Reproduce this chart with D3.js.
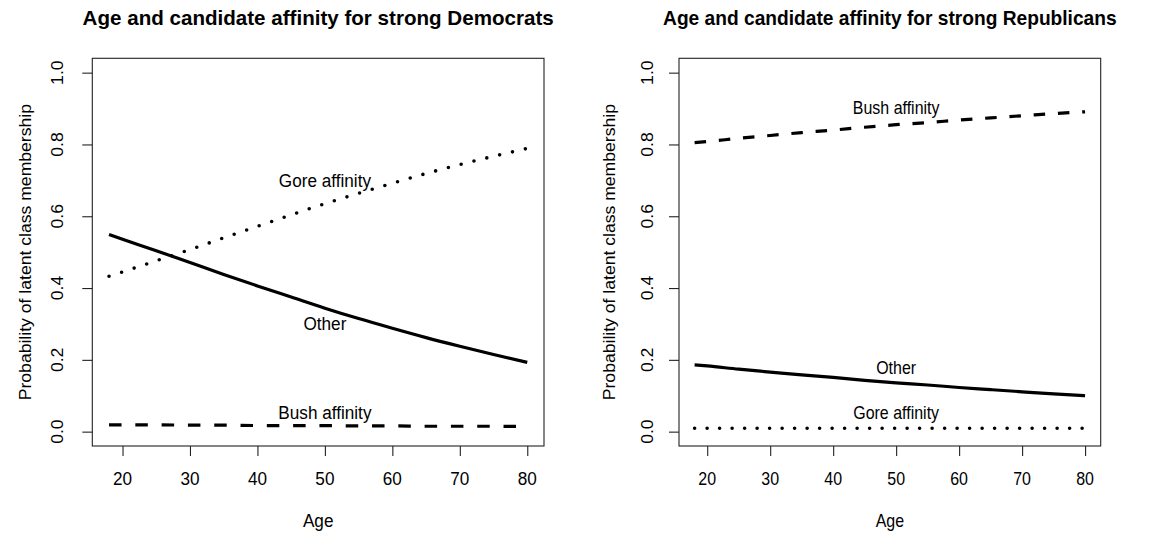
<!DOCTYPE html>
<html>
<head>
<meta charset="utf-8">
<script src="https://cdn.jsdelivr.net/npm/d3@7"></script>
<style>
  html, body { margin: 0; padding: 0; background: #ffffff; }
  svg { display: block; }
  text { font-family: "Liberation Sans", Arial, Helvetica, sans-serif; fill: #000; }
</style>
</head>
<body>
<svg id="chart" width="1160" height="533"></svg>
<script>
// ---------------- DATA ----------------
const ages = [18, 20, 25, 30, 35, 40, 45, 50, 55, 60, 65, 70, 75, 80];

const xTicks = [20, 30, 40, 50, 60, 70, 80];
const yTicks = [0.0, 0.2, 0.4, 0.6, 0.8, 1.0];
const yTickLabels = ["0.0", "0.2", "0.4", "0.6", "0.8", "1.0"];

// Strong Democrats
const demOther = [0.549, 0.536, 0.504, 0.471, 0.438, 0.406, 0.375, 0.344, 0.315, 0.288, 0.262, 0.238, 0.215, 0.193];
const demGore  = [0.433, 0.445, 0.476, 0.507, 0.540, 0.572, 0.604, 0.635, 0.664, 0.692, 0.719, 0.744, 0.767, 0.789];
const demBush  = [0.019, 0.019, 0.019, 0.018, 0.018, 0.017, 0.017, 0.017, 0.016, 0.016, 0.015, 0.015, 0.015, 0.014];

// Strong Republicans
const repBush  = [0.805, 0.808, 0.817, 0.825, 0.833, 0.840, 0.848, 0.855, 0.861, 0.868, 0.874, 0.880, 0.886, 0.891];
const repOther = [0.186, 0.183, 0.174, 0.166, 0.158, 0.151, 0.143, 0.136, 0.130, 0.123, 0.117, 0.111, 0.105, 0.100];
const repGore  = [0.0095, 0.0095, 0.0095, 0.0095, 0.0095, 0.0095, 0.0095, 0.0095, 0.0095, 0.0095, 0.0095, 0.0095, 0.0095, 0.0095];

// in-plot labels: [text, age, probability]
const demLabels = [["Gore affinity", 50, 0.70], ["Other", 50, 0.30], ["Bush affinity", 50, 0.052]];
const repLabels = [["Bush affinity", 50, 0.902], ["Other", 50, 0.178], ["Gore affinity", 50, 0.052]];

const titles = ["Age and candidate affinity for strong Democrats",
                "Age and candidate affinity for strong Republicans"];
const xTitle = "Age";
const yTitle = "Probability of latent class membership";

// ---------------- LAYOUT ----------------
const svg = d3.select("#chart");
const FS = 17.6;          // base font size (vertical)
const plotTop = 58.3, plotBottom = 446;

const panels = [
  { left: 92.3, right: 544, sx: 0.975, yTickBase: 62.5, yLabBase: 30.5,
    title: titles[0], labels: demLabels,
    series: [
      { values: demOther, dash: null },
      { values: demGore,  dash: "0,13.2", cap: "round", width: 3.6 },
      { values: demBush,  dash: "12.5,13.8" }
    ] },
  { left: 679, right: 1100.7, sx: 0.908, yTickBase: 653.3, yLabBase: 614.7,
    title: titles[1], labels: repLabels,
    series: [
      { values: repBush,  dash: "11.5,12.8" },
      { values: repOther, dash: null },
      { values: repGore,  dash: "0,12.5", cap: "round", width: 3.6 }
    ] }
];

function htext(g, str, x, y, sx, size, weight, anchor) {
  return g.append("text")
    .attr("transform", `translate(${x},${y}) scale(${sx},1)`)
    .attr("text-anchor", anchor || "middle")
    .style("font-size", size + "px")
    .style("font-weight", weight || "normal")
    .text(str);
}
function vtext(g, str, x, y, sx, size) {
  return g.append("text")
    .attr("transform", `translate(${x},${y}) scale(${sx},1) rotate(-90)`)
    .attr("text-anchor", "middle")
    .style("font-size", size + "px")
    .text(str);
}

panels.forEach(p => {
  const g = svg.append("g");
  const x = d3.scaleLinear().domain([15.52, 82.48]).range([p.left, p.right]);
  const y = d3.scaleLinear().domain([-0.04, 1.04]).range([plotBottom, plotTop]);

  // lines
  p.series.forEach(s => {
    const line = d3.line()
      .x((d, i) => x(ages[i]))
      .y(d => y(d))
      .curve(d3.curveMonotoneX);
    g.append("path")
      .datum(s.values)
      .attr("d", line)
      .attr("fill", "none")
      .attr("stroke", "#000")
      .attr("stroke-width", s.width || 3.2)
      .attr("stroke-linecap", s.cap || "butt")
      .attr("stroke-linejoin", "round")
      .attr("stroke-dasharray", s.dash);
  });

  // box
  g.append("rect")
    .attr("x", p.left).attr("y", plotTop)
    .attr("width", p.right - p.left).attr("height", plotBottom - plotTop)
    .attr("fill", "none").attr("stroke", "#222").attr("stroke-width", 1.1);

  // x axis
  const xAxis = d3.axisBottom(x).tickValues(xTicks).tickSize(10).tickFormat("");
  const xa = g.append("g").attr("transform", `translate(0,${plotBottom})`).call(xAxis);
  xa.select(".domain").remove();
  xa.selectAll("line").attr("stroke", "#222").attr("stroke-width", 1.1);
  xTicks.forEach(t => htext(g, String(t), x(t), 484.5, p.sx, FS));

  // y axis
  const yAxis = d3.axisLeft(y).tickValues(yTicks).tickSize(10).tickFormat("");
  const ya = g.append("g").attr("transform", `translate(${p.left},0)`).call(yAxis);
  ya.select(".domain").remove();
  ya.selectAll("line").attr("stroke", "#222").attr("stroke-width", 1.1);
  yTicks.forEach((t, i) => vtext(g, yTickLabels[i], p.yTickBase, y(t), p.sx, FS));

  // titles
  htext(g, p.title, (p.left + p.right) / 2, 25, p.sx, FS * 1.2, "bold");
  htext(g, xTitle, (p.left + p.right) / 2, 526.5, p.sx, FS);
  vtext(g, yTitle, p.yLabBase, (plotTop + plotBottom) / 2, p.sx, FS);

  // in-plot labels (vertically centred on the value)
  p.labels.forEach(l => {
    htext(g, l[0], x(l[1]), y(l[2]) + FS * 0.36, p.sx, FS);
  });
});
</script>
</body>
</html>
